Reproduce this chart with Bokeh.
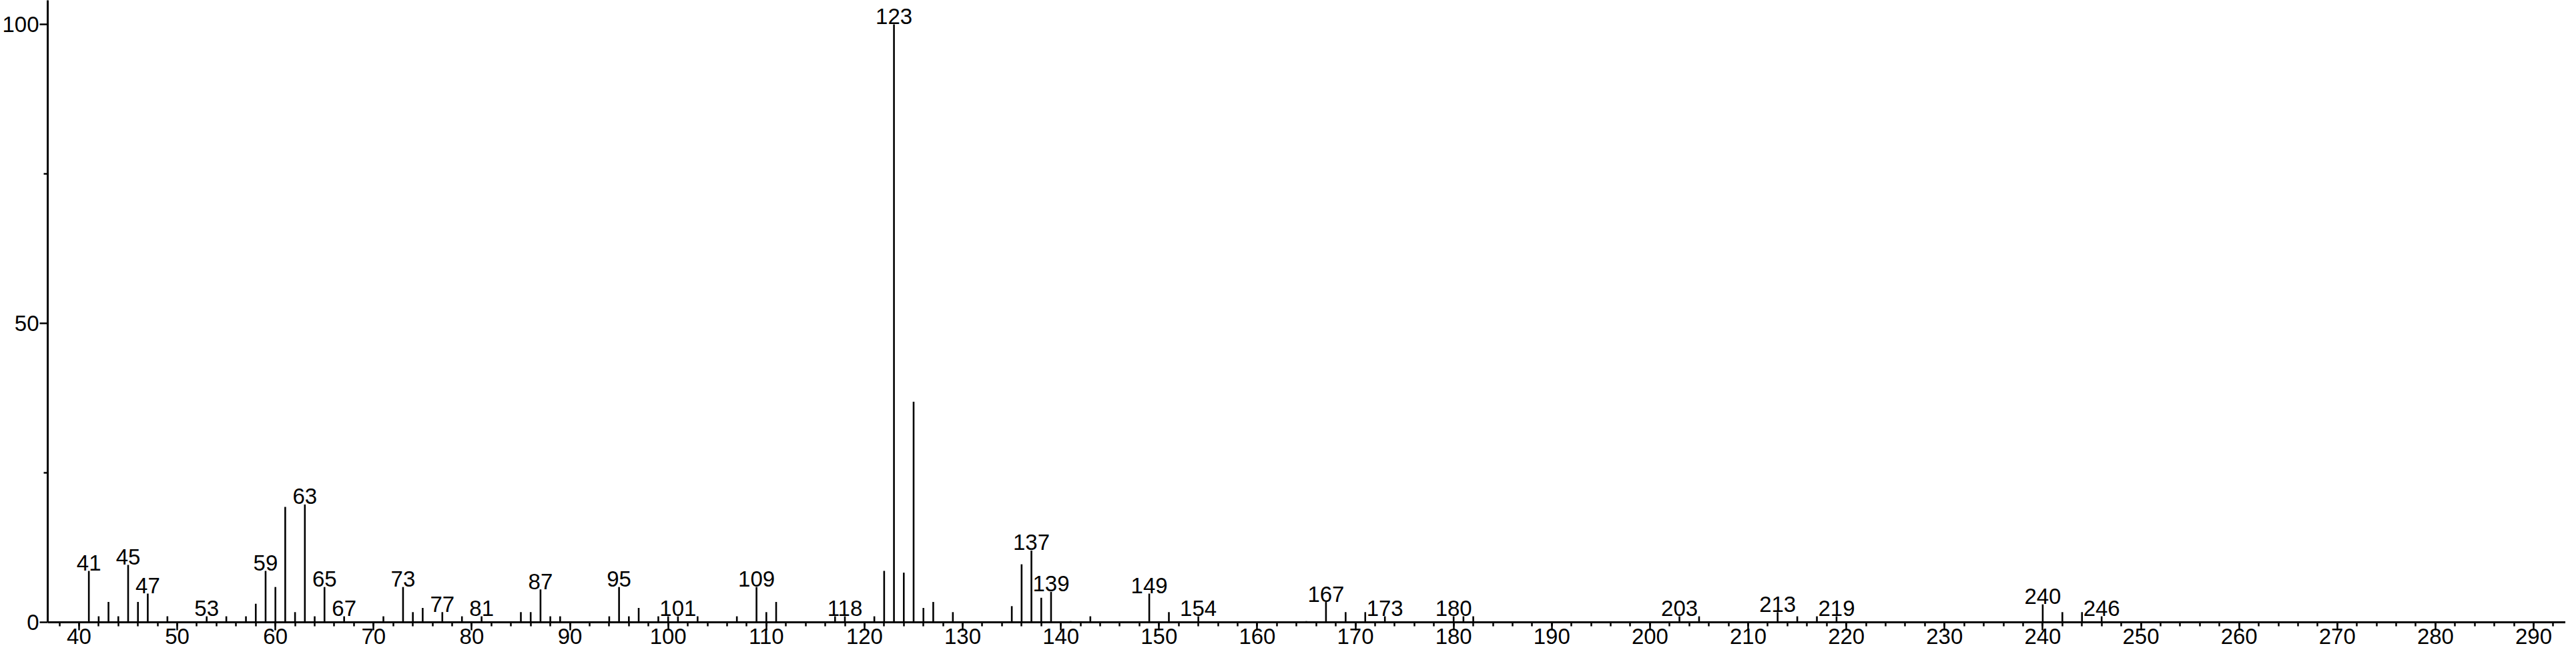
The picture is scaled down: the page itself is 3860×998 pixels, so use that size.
from bokeh.plotting import figure
from bokeh.models import Range1d, FixedTicker, SingleIntervalTicker, ColumnDataSource
from bokeh.embed import file_html
from bokeh.resources import INLINE
from bokeh.core.properties import value

# m/z values and relative intensities (%)
mz = [41, 42, 43, 44, 45, 46, 47, 49, 53, 55, 57, 58, 59, 60, 61, 62, 63, 64, 65, 67,
      71, 73, 74, 75, 77, 79, 81, 85, 86, 87, 88, 89, 94, 95, 96, 97, 99, 100, 101, 103,
      107, 109, 110, 111, 117, 118, 121, 122, 123, 124, 125, 126, 127, 129, 135, 136, 137,
      138, 139, 141, 143, 149, 151, 154, 165, 167, 169, 171, 173, 180, 181, 182, 203, 205,
      213, 215, 217, 219, 240, 242, 244, 246]
intensity = [8.6, 1.0, 3.4, 1.0, 9.6, 3.4, 4.8, 1.0, 1.0, 1.0, 1.0, 3.1, 8.6, 5.9, 19.3, 1.7,
             19.7, 1.0, 5.9, 1.0, 1.0, 5.9, 1.7, 2.4, 1.7, 1.0, 1.0, 1.7, 1.7, 5.5, 1.0, 1.0,
             1.0, 5.9, 1.0, 2.4, 1.0, 1.0, 1.0, 1.0, 1.0, 5.9, 1.7, 3.4, 1.0, 1.0, 1.0, 8.6,
             100.0, 8.3, 36.9, 2.4, 3.4, 1.7, 2.7, 9.7, 12.0, 4.1, 5.1, 0.2, 1.0, 4.8, 1.7,
             1.0, 0.2, 3.4, 1.7, 1.7, 1.0, 1.0, 1.0, 1.0, 1.0, 1.0, 1.7, 1.0, 1.0, 1.0, 3.0,
             1.7, 1.7, 1.0]
labeled_mz = [41, 45, 47, 53, 59, 63, 65, 67, 73, 77, 81, 87, 95, 101, 109, 118, 123, 137,
              139, 149, 154, 167, 173, 180, 203, 213, 219, 240, 246]
y_ticks = [0, 50, 100]
y_minor_ticks = [25, 75]

lookup = dict(zip(mz, intensity))
bars = ColumnDataSource(dict(x=mz, y=intensity, y0=[0] * len(mz)))
labels = ColumnDataSource(dict(x=labeled_mz, y=[lookup[m] for m in labeled_mz],
                               t=[str(m) for m in labeled_mz]))

FONT = "Liberation Sans"
Y_TOP = 104.02
Y_BOTTOM = -5.58

p = figure(width=3844, height=982, output_backend="svg", toolbar_location=None,
           x_range=Range1d(36.81, 293.26), y_range=Range1d(Y_BOTTOM, Y_TOP),
           min_border_left=70, min_border_right=0, min_border_top=0, min_border_bottom=0)
p.outline_line_color = None
p.xgrid.visible = False
p.ygrid.visible = False
p.background_fill_color = "white"
p.border_fill_color = "white"

p.segment(x0="x", y0="y0", x1="x", y1="y", source=bars, line_color="black", line_width=2.6)
p.text(x="x", y="y", text="t", source=labels, text_align="center",
       text_baseline="alphabetic", y_offset=-12, text_font=value(FONT),
       text_font_size="33px", text_color="black")

xa = p.xaxis[0]
xa.fixed_location = 0
xa.ticker = SingleIntervalTicker(interval=10, num_minor_ticks=5)
ya = p.yaxis[0]
ya.ticker = FixedTicker(ticks=y_ticks, minor_ticks=y_minor_ticks)
ya.bounds = (0, Y_TOP)

for ax in (xa, ya):
    ax.axis_line_width = 3
    ax.axis_line_color = "black"
    ax.major_tick_line_width = 2.5
    ax.minor_tick_line_width = 2.5
    ax.major_tick_line_color = "black"
    ax.minor_tick_line_color = "black"
    ax.major_tick_out = 12
    ax.major_tick_in = 0
    ax.minor_tick_out = 6
    ax.minor_tick_in = 0
    ax.major_label_text_font = FONT
    ax.major_label_text_font_size = "33px"
    ax.major_label_text_color = "black"
xa.major_label_standoff = -3
ya.major_label_standoff = 1

open("out.html", "w").write(file_html(p, INLINE))
